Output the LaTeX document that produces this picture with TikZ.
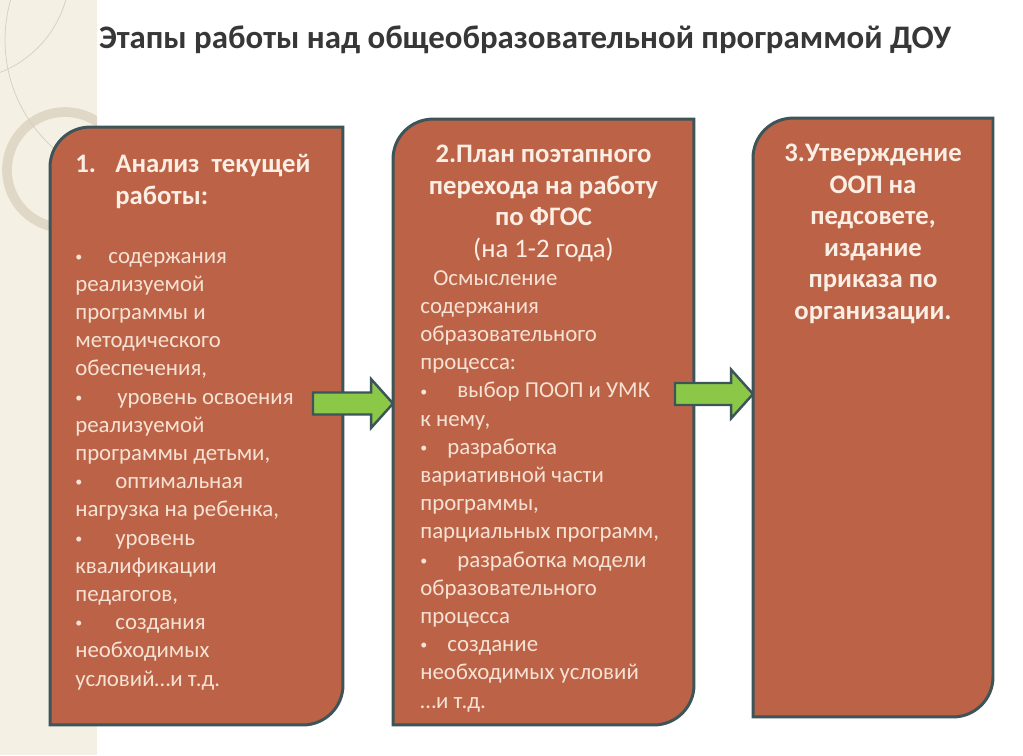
\documentclass[tikz,border=0pt]{standalone}
\usepackage{fontspec}
\setmainfont{Carlito}
\usetikzlibrary{positioning,calc}

\definecolor{brick}{RGB}{188,99,71}
\definecolor{slate}{RGB}{61,84,88}
\definecolor{leaf}{RGB}{140,200,72}
\definecolor{cream}{RGB}{246,226,212}
\definecolor{headcream}{RGB}{251,238,228}
\definecolor{titlegray}{RGB}{55,55,55}
\definecolor{paper}{RGB}{245,240,228}
\definecolor{ringgray}{RGB}{224,216,198}

\tikzset{
  stage box/.style  = {inner sep=0pt, outer sep=0pt},
  stage line/.style = {draw=slate, line width=1.7pt, fill=brick},
  body text/.style  = {text=cream, align=left, inner sep=0pt,
                       font=\fontsize{13}{16.05}\selectfont},
  head text/.style  = {text=headcream, align=center, inner sep=0pt,
                       font=\fontsize{15.2}{17.9}\selectfont\bfseries},
  title text/.style = {text=titlegray, inner sep=0pt,
                       font=\fontsize{18.7}{22}\selectfont\bfseries},
  block arr/.style  = {draw=slate, line width=1.4pt, fill=leaf, line join=miter},
}

% bullet followed by a gap of width #1
\newcommand{\bul}[1]{\makebox[#1][l]{\raisebox{0.15ex}{\fontsize{8}{8}\selectfont\textbullet}}}
% box outline: rounded top left and bottom right corners
\newcommand{\stageoutline}[1]{%
  \draw[stage line] (#1.south west) -- ([yshift=-0.8cm]#1.north west)
    arc[start angle=180, end angle=90, radius=0.8cm] -- (#1.north east)
    -- ([yshift=0.8cm]#1.south east)
    arc[start angle=0, end angle=-90, radius=0.8cm] -- cycle;}
% block arrow from a start point to the tip on a box side
\newcommand{\blockarrow}[2]{%
  \draw[block arr] let \p1=(#1), \p2=(#2) in
    (\x1,\y1+0.22cm) -- (\x2-0.44cm,\y1+0.22cm) -- (\x2-0.44cm,\y1+0.49cm)
    -- (\x2,\y1) -- (\x2-0.44cm,\y1-0.49cm) -- (\x2-0.44cm,\y1-0.22cm)
    -- (\x1,\y1-0.22cm) -- cycle;}

\begin{document}
\begin{tikzpicture}[x=0.02cm, y=-0.02cm]
  \useasboundingbox[fill=white] (0,0) rectangle (1023,755);

  % background strip
  \fill[paper] (0,0) rectangle (97,755);
  \begin{scope}
    \clip (0,0) rectangle (97,755);
    \draw[ringgray, line width=5.5pt] (65,170) circle (1.16cm);
    \draw[ringgray!90!gray, line width=0.4pt] (150,40) circle (2.9cm);
    \draw[ringgray!90!gray, line width=0.4pt] (-40,-30) circle (2.2cm);
  \end{scope}

  \node[title text] (title) at (525,40) {Этапы работы над общеобразовательной программой ДОУ};

  \node[stage box, minimum width=5.86cm, minimum height=11.96cm] (b1) at (196.5,426) {};
  \node[stage box, minimum width=6.02cm, minimum height=12.12cm] (b2) at (543.5,422) {};
  \node[stage box, minimum width=4.80cm, minimum height=11.98cm] (b3) at (873,417.5) {};
  \stageoutline{b1}
  \stageoutline{b2}
  \stageoutline{b3}

  \coordinate (a1) at (313,403.5);
  \coordinate (a2) at (675,394);
  \blockarrow{a1}{b2.west}
  \blockarrow{a2}{b3.west}

  % multi-line nodes: base anchor sits on the last line
  \node[head text, align=left, anchor=base west] (h1) at (75,204)
    {\makebox[0.8cm][l]{1.}Анализ\ \ текущей\\\hspace*{0.8cm}работы:};
  \node[body text, anchor=base west] (t1) at (75,686) {%
    \bul{0.66cm}содержания\\
    реализуемой\\
    программы и\\
    методического\\
    обеспечения,\\
    \bul{0.84cm}уровень освоения\\
    реализуемой\\
    программы детьми,\\
    \bul{0.8cm}оптимальная\\
    нагрузка на ребенка,\\
    \bul{0.8cm}уровень\\
    квалификации\\
    педагогов,\\
    \bul{0.8cm}создания\\
    необходимых\\
    условий…и т.д.};

  \node[head text, anchor=base] (h2) at (543.5,257) {%
    2.План поэтапного\\
    перехода на работу\\
    по ФГОС\\
    {\mdseries (на 1-2 года)}};
  \node[body text, anchor=base west] (t2) at (420,708) {%
    \hspace*{0.26cm}Осмысление\\
    содержания\\
    образовательного\\
    процесса:\\
    \bul{0.74cm}выбор ПООП и УМК\\
    к нему,\\
    \bul{0.54cm}разработка\\
    вариативной части\\
    программы,\\
    парциальных программ,\\
    \bul{0.74cm}разработка модели\\
    образовательного\\
    процесса\\
    \bul{0.54cm}создание\\
    необходимых условий\\
    …и т.д.};

  \node[head text, anchor=base] (h3) at (873,319) {%
    3.Утверждение\\
    ООП на\\
    педсовете,\\
    издание\\
    приказа по\\
    организации.};
\end{tikzpicture}
\end{document}
